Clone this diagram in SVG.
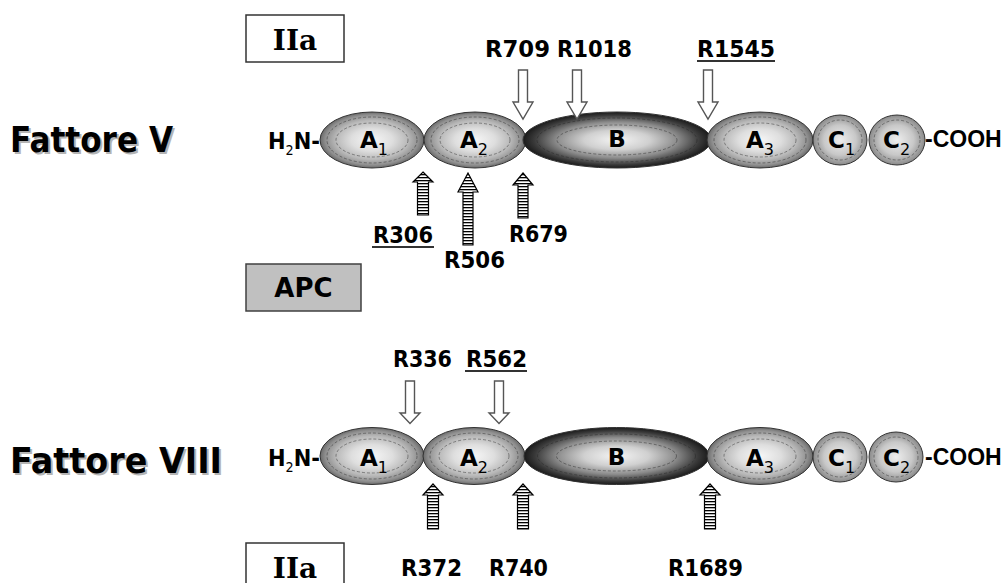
<svg xmlns="http://www.w3.org/2000/svg" width="1005" height="583" viewBox="0 0 1005 583">
<defs>
<radialGradient id="gA" cx="50%" cy="50%" r="50%">
<stop offset="0" stop-color="#f6f6f6"/><stop offset="0.4" stop-color="#dedede"/><stop offset="0.7" stop-color="#b8b8b8"/><stop offset="0.9" stop-color="#8e8e8e"/><stop offset="1" stop-color="#6a6a6a"/>
</radialGradient>
<radialGradient id="gB" cx="50%" cy="50%" r="50%">
<stop offset="0" stop-color="#f4f4f4"/><stop offset="0.35" stop-color="#d0d0d0"/><stop offset="0.65" stop-color="#8a8a8a"/><stop offset="0.88" stop-color="#3a3a3a"/><stop offset="1" stop-color="#1a1a1a"/>
</radialGradient>
<radialGradient id="gC" cx="50%" cy="50%" r="50%">
<stop offset="0" stop-color="#eeeeee"/><stop offset="0.6" stop-color="#c8c8c8"/><stop offset="1" stop-color="#8a8a8a"/>
</radialGradient>
<pattern id="stripes" patternUnits="userSpaceOnUse" width="20" height="3">
<rect width="20" height="3" fill="#fff"/><rect width="20" height="1.3" fill="#000"/>
</pattern>
</defs>
<style>
.lbl{font-family:"DejaVu Sans","Liberation Sans",sans-serif;font-weight:bold;font-size:23px;fill:#000}
.big{font-family:"DejaVu Sans","Liberation Sans",sans-serif;font-weight:bold;font-size:36px;fill:#000}
.shadow{fill:#b4b4b4}
.dom{font-family:"DejaVu Sans","Liberation Sans",sans-serif;font-weight:bold;font-size:23px;fill:#000}
.cooh{font-family:"Liberation Sans","DejaVu Sans",sans-serif;font-weight:bold;font-size:23px;fill:#000}
.sub{font-weight:normal;font-size:16px}
.iia{font-family:"DejaVu Serif","Liberation Serif",serif;font-weight:bold;font-size:28px;fill:#000}
.box{fill:#fff;stroke:#333;stroke-width:1.5}
.apc{fill:#c0c0c0;stroke:#404040;stroke-width:1.5}
.edge{stroke:#333;stroke-width:1}
.ring{fill:none;stroke:#222;stroke-width:0.8;stroke-dasharray:3 2;opacity:0.55}
.down{fill:#fff;stroke:#555;stroke-width:1.4}
.up{fill:url(#stripes);stroke:#000;stroke-width:1.2}
.ul{stroke:#333;stroke-width:2}
</style>

<!-- Labels -->
<g id="label-fattoreV">
<text class="big shadow" x="12" y="154" textLength="163" lengthAdjust="spacingAndGlyphs">Fattore V</text>
<text class="big" x="10" y="152" textLength="163" lengthAdjust="spacingAndGlyphs">Fattore V</text>
</g>
<g id="label-fattoreVIII">
<text class="big shadow" x="12" y="475" textLength="212" lengthAdjust="spacingAndGlyphs">Fattore VIII</text>
<text class="big" x="10" y="473" textLength="212" lengthAdjust="spacingAndGlyphs">Fattore VIII</text>
</g>

<g id="box-IIa-top">
<rect class="box" x="246" y="15" width="98" height="47"/>
<text class="iia" x="295" y="50" text-anchor="middle">IIa</text>
</g>
<g id="box-APC">
<rect class="apc" x="246" y="264" width="115" height="47"/>
<text class="lbl" x="303.5" y="297" text-anchor="middle" style="font-size:26px">APC</text>
</g>
<g id="box-IIa-bottom">
<rect class="box" x="246" y="543" width="98" height="47"/>
<text class="iia" x="295" y="578" text-anchor="middle">IIa</text>
</g>

<!-- Factor V chain -->
<g id="fV-N">
<text class="dom" x="268" y="149" textLength="52" lengthAdjust="spacingAndGlyphs">H<tspan class="sub" dy="6" style="font-size:14px">2</tspan><tspan dy="-6">N-</tspan></text>
</g>
<g id="fV-A1">
<ellipse class="edge" cx="372" cy="140" rx="52" ry="28" fill="url(#gA)"/>
<ellipse class="ring" cx="372" cy="140" rx="45" ry="23"/><ellipse class="ring" cx="372" cy="140" rx="36" ry="17"/>
<text class="dom" x="360" y="148">A<tspan class="sub" dy="7">1</tspan></text>
</g>
<g id="fV-A2">
<ellipse class="edge" cx="475" cy="140" rx="51" ry="28" fill="url(#gA)"/>
<ellipse class="ring" cx="475" cy="140" rx="44" ry="23"/><ellipse class="ring" cx="475" cy="140" rx="35" ry="17"/>
<text class="dom" x="460" y="148">A<tspan class="sub" dy="7">2</tspan></text>
</g>
<g id="fV-B">
<ellipse class="edge" cx="617" cy="140" rx="94" ry="28" fill="url(#gB)"/>
<ellipse class="ring" cx="617" cy="140" rx="80" ry="22"/><ellipse class="ring" cx="617" cy="140" rx="60" ry="15"/>
<text class="dom" x="617" y="147" text-anchor="middle">B</text>
</g>
<g id="fV-A3">
<ellipse class="edge" cx="760" cy="140" rx="53" ry="28" fill="url(#gA)"/>
<ellipse class="ring" cx="760" cy="140" rx="46" ry="23"/><ellipse class="ring" cx="760" cy="140" rx="36" ry="17"/>
<text class="dom" x="746" y="148">A<tspan class="sub" dy="7">3</tspan></text>
</g>
<g id="fV-C1">
<ellipse class="edge" cx="840" cy="140" rx="27" ry="25" fill="url(#gC)"/>
<ellipse class="ring" cx="840" cy="140" rx="22" ry="20"/>
<text class="dom" x="828" y="148">C<tspan class="sub" dy="7">1</tspan></text>
</g>
<g id="fV-C2">
<ellipse class="edge" cx="897" cy="140" rx="28" ry="25" fill="url(#gC)"/>
<ellipse class="ring" cx="897" cy="140" rx="23" ry="20"/>
<text class="dom" x="883" y="148">C<tspan class="sub" dy="7">2</tspan></text>
</g>
<g id="fV-C">
<text class="cooh" x="925" y="147">-COOH</text>
</g>

<!-- Factor VIII chain -->
<g id="fVIII-N">
<text class="dom" x="268" y="466" textLength="52" lengthAdjust="spacingAndGlyphs">H<tspan class="sub" dy="6" style="font-size:14px">2</tspan><tspan dy="-6">N-</tspan></text>
</g>
<g id="fVIII-A1">
<ellipse class="edge" cx="372" cy="456" rx="52" ry="28.5" fill="url(#gA)"/>
<ellipse class="ring" cx="372" cy="456" rx="45" ry="23"/><ellipse class="ring" cx="372" cy="456" rx="36" ry="17"/>
<text class="dom" x="360" y="466">A<tspan class="sub" dy="7">1</tspan></text>
</g>
<g id="fVIII-A2">
<ellipse class="edge" cx="474" cy="456" rx="51" ry="28.5" fill="url(#gA)"/>
<ellipse class="ring" cx="474" cy="456" rx="44" ry="23"/><ellipse class="ring" cx="474" cy="456" rx="35" ry="17"/>
<text class="dom" x="460" y="466">A<tspan class="sub" dy="7">2</tspan></text>
</g>
<g id="fVIII-B">
<ellipse class="edge" cx="616.5" cy="456" rx="92.5" ry="28.5" fill="url(#gB)"/>
<ellipse class="ring" cx="616.5" cy="456" rx="79" ry="22"/><ellipse class="ring" cx="616.5" cy="456" rx="60" ry="15"/>
<text class="dom" x="616.5" y="465" text-anchor="middle">B</text>
</g>
<g id="fVIII-A3">
<ellipse class="edge" cx="760" cy="456" rx="53" ry="28.5" fill="url(#gA)"/>
<ellipse class="ring" cx="760" cy="456" rx="46" ry="23"/><ellipse class="ring" cx="760" cy="456" rx="36" ry="17"/>
<text class="dom" x="746" y="466">A<tspan class="sub" dy="7">3</tspan></text>
</g>
<g id="fVIII-C1">
<ellipse class="edge" cx="840" cy="457" rx="27" ry="25" fill="url(#gC)"/>
<ellipse class="ring" cx="840" cy="457" rx="22" ry="20"/>
<text class="dom" x="828" y="466">C<tspan class="sub" dy="7">1</tspan></text>
</g>
<g id="fVIII-C2">
<ellipse class="edge" cx="896" cy="457" rx="27" ry="25" fill="url(#gC)"/>
<ellipse class="ring" cx="896" cy="457" rx="22" ry="20"/>
<text class="dom" x="883" y="466">C<tspan class="sub" dy="7">2</tspan></text>
</g>
<g id="fVIII-C">
<text class="cooh" x="925" y="465">-COOH</text>
</g>

<!-- Cleavage arrows -->
<g id="connectors">
<path class="down" d="M518.5,70 H527.5 V102 H533 L523,119 L513,102 H518.5 Z"/>
<path class="down" d="M572.5,70 H581.5 V102 H587 L577,119 L567,102 H572.5 Z"/>
<path class="down" d="M703.5,70 H712.5 V102 H718 L708,119 L698,102 H703.5 Z"/>
<path class="up" d="M423,172 L433,182 H428.5 V215 H417.5 V182 H413 Z"/>
<path class="up" d="M468,173 L478,192 H473 V245 H463 V192 H458 Z"/>
<path class="up" d="M523,173 L533,185 H528 V218 H518 V185 H513 Z"/>
<path class="down" d="M405.5,381 H414.5 V413 H420 L410,423.5 L400,413 H405.5 Z"/>
<path class="down" d="M494.5,381 H503.5 V413 H509 L499,423.5 L489,413 H494.5 Z"/>
<path class="up" d="M433,484 L443,495 H438.5 V529 H427.5 V495 H423 Z"/>
<path class="up" d="M523,484 L533,495 H528.5 V529 H517.5 V495 H513 Z"/>
<path class="up" d="M710,484 L720,495 H715.5 V529 H704.5 V495 H700 Z"/>
</g>

<g id="site-labels">
<text class="lbl" x="485" y="57" textLength="65" lengthAdjust="spacingAndGlyphs">R709</text>
<text class="lbl" x="557" y="57" textLength="75" lengthAdjust="spacingAndGlyphs">R1018</text>
<text class="lbl" x="697" y="57" textLength="78" lengthAdjust="spacingAndGlyphs">R1545</text>
<line class="ul" x1="697" y1="61" x2="775" y2="61"/>
<text class="lbl" x="373" y="243" textLength="60" lengthAdjust="spacingAndGlyphs">R306</text>
<line class="ul" x1="372" y1="247" x2="434" y2="247"/>
<text class="lbl" x="444" y="268" textLength="61" lengthAdjust="spacingAndGlyphs">R506</text>
<text class="lbl" x="509" y="242" textLength="59" lengthAdjust="spacingAndGlyphs">R679</text>
<text class="lbl" x="393" y="367" textLength="59" lengthAdjust="spacingAndGlyphs">R336</text>
<text class="lbl" x="466" y="367" textLength="61" lengthAdjust="spacingAndGlyphs">R562</text>
<line class="ul" x1="465" y1="371" x2="527" y2="371"/>
<text class="lbl" x="401" y="576" textLength="61" lengthAdjust="spacingAndGlyphs">R372</text>
<text class="lbl" x="489" y="576" textLength="59" lengthAdjust="spacingAndGlyphs">R740</text>
<text class="lbl" x="668" y="576" textLength="75" lengthAdjust="spacingAndGlyphs">R1689</text>
</g>
</svg>
